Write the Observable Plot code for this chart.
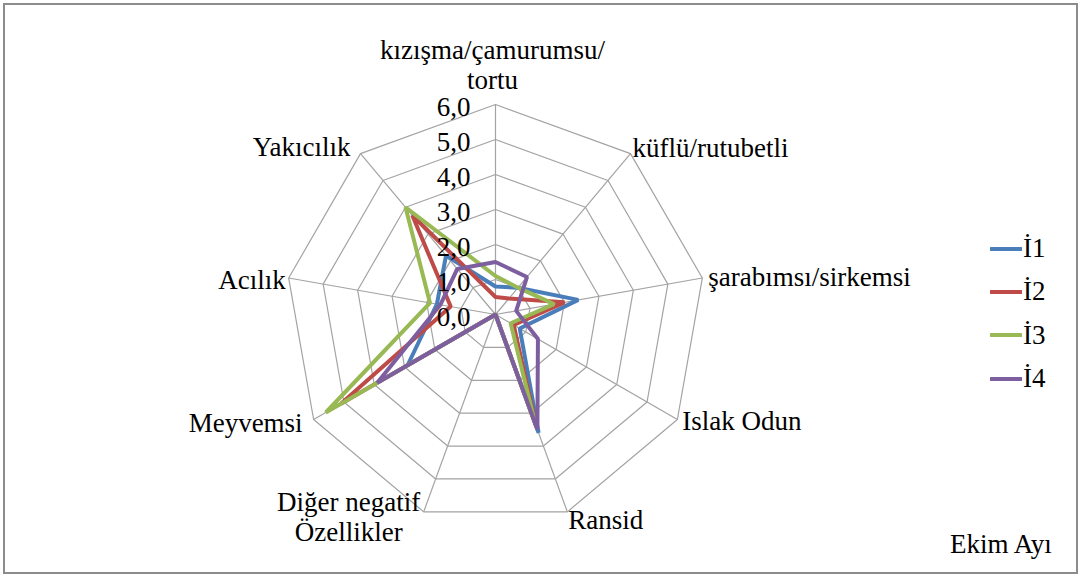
<!DOCTYPE html>
<html>
<head>
<meta charset="utf-8">
<script src="https://cdn.jsdelivr.net/npm/d3@7"></script>
<script src="https://cdn.jsdelivr.net/npm/@observablehq/plot@0.6"></script>
<style>
  html, body { margin: 0; padding: 0; background: #fff; }
  #wrap { position: relative; width: 1082px; height: 577px; overflow: hidden; font-family: "Liberation Serif", "Times New Roman", serif; }
  #wrap svg text { font-family: "Liberation Serif", "Times New Roman", serif; }
  #frame { position: absolute; left: 3px; top: 3px; width: 1071px; height: 567px; border: 2px solid #8c8c8c; box-sizing: content-box; pointer-events: none; }
  #legend { position: absolute; left: 990px; top: 227px; font-size: 27px; line-height: 43px; }
  #legend .item { display: flex; align-items: center; height: 43.3px; }
  #legend svg { margin-right: 1px; }
  #note { position: absolute; left: 950px; top: 528px; font-size: 27px; line-height: 32px; }
</style>
</head>
<body>
<div id="wrap">
  <div id="chart"></div>
  <div id="legend"></div>
  <div id="note">Ekim Ayı</div>
  <div id="frame"></div>
</div>
<script>
// ---- data ----
const axes = [
  "kızışma/çamurumsu/\ntortu",
  "küflü/rutubetli",
  "şarabımsı/sirkemsi",
  "Islak Odun",
  "Ransid",
  "Diğer negatif\nÖzellikler",
  "Meyvemsi",
  "Acılık",
  "Yakıcılık"
];
const seriesNames = ["İ1", "İ2", "İ3", "İ4"];
const I1 = [0.8, 1.0, 2.4, 0.8, 3.6, 0.0, 2.9, 1.7, 2.2];
const I2 = [0.5, 0.6, 2.0, 0.6, 3.4, 0.0, 5.1, 1.3, 3.7];
const I3 = [1.1, 1.0, 1.7, 0.5, 3.3, 0.0, 5.6, 1.9, 4.0];
const I4 = [1.5, 1.4, 0.6, 1.4, 3.5, 0.0, 3.9, 1.6, 1.7];
const tickValues = [0, 1, 2, 3, 4, 5, 6];
const tickLabels = ["0,0", "1,0", "2,0", "3,0", "4,0", "5,0", "6,0"];

// ---- style ----
const colors = ["#4a7ebb", "#be4b48", "#98b954", "#7d5fa0"];
const labelLayout = [
  {anchor: "middle", dx: -3, dy: -16, line: "bottom"},
  {anchor: "start", dx: 2, dy: -6, line: "middle"},
  {anchor: "start", dx: 6, dy: -2, line: "middle"},
  {anchor: "start", dx: 5, dy: 1, line: "middle"},
  {anchor: "start", dx: 1, dy: 8, line: "middle"},
  {anchor: "middle", dx: -75, dy: 5, line: "middle"},
  {anchor: "end", dx: -11, dy: 3, line: "middle"},
  {anchor: "end", dx: -3, dy: 1, line: "middle"},
  {anchor: "end", dx: -10, dy: -7, line: "middle"}
];
const fontStack = "'Liberation Serif', 'Times New Roman', serif";
const fs = 27;

const n = axes.length;
const maxV = 6;
const ang = i => 2 * Math.PI * i / n;
const px = (v, i) => v * Math.sin(ang(i));
const py = (v, i) => v * Math.cos(ang(i));

const allSeries = [I1, I2, I3, I4];
const rows = allSeries.flatMap((vals, si) => vals.map((v, i) => ({series: seriesNames[si], i, v})));
const ringRows = tickValues.filter(t => t > 0).flatMap(t => axes.map((a, i) => ({t, i})));
const axisIdx = axes.map((a, i) => i);

const labelMarks = axisIdx.map(i => Plot.text([i], {
  x: d => px(maxV, d), y: d => py(maxV, d),
  text: d => axes[d],
  textAnchor: labelLayout[i].anchor,
  lineAnchor: labelLayout[i].line,
  lineHeight: 1.1,
  dx: labelLayout[i].dx, dy: labelLayout[i].dy,
  fontSize: fs, fontFamily: fontStack, fill: "#000"
}));

const chart = Plot.plot({
  width: 1082,
  height: 577,
  margin: 0,
  x: {domain: [-maxV, maxV], range: [285, 705], axis: null},
  y: {domain: [-maxV, maxV], range: [524, 104], axis: null},
  color: {domain: seriesNames, range: colors},
  style: {fontFamily: fontStack, fontSize: fs + "px", background: "#fff", color: "#000"},
  marks: [
    Plot.line(ringRows, {x: d => px(d.t, d.i), y: d => py(d.t, d.i), z: "t", curve: "linear-closed", stroke: "#a3a3a3", strokeWidth: 1.2}),
    Plot.link(axisIdx, {x1: 0, y1: 0, x2: i => px(maxV, i), y2: i => py(maxV, i), stroke: "#a3a3a3", strokeWidth: 1.2}),
    Plot.line(rows, {x: d => px(d.v, d.i), y: d => py(d.v, d.i), z: "series", stroke: "series", curve: "linear-closed", strokeWidth: 4, strokeLinejoin: "miter"}),
    Plot.text(tickValues, {x: 0, y: d => d, text: (d, i) => tickLabels[i], textAnchor: "end", dx: -25, dy: 3, fontSize: fs, fontFamily: fontStack, fill: "#000"}),
    ...labelMarks
  ]
});
document.getElementById("chart").appendChild(chart);

// legend
const legend = document.getElementById("legend");
seriesNames.forEach((s, i) => {
  const item = document.createElement("div");
  item.className = "item";
  item.innerHTML = `<svg width="32" height="10"><line x1="1" y1="5" x2="31" y2="5" stroke="${colors[i]}" stroke-width="4" stroke-linecap="round"/></svg><span>${s}</span>`;
  legend.appendChild(item);
});
</script>
</body>
</html>
